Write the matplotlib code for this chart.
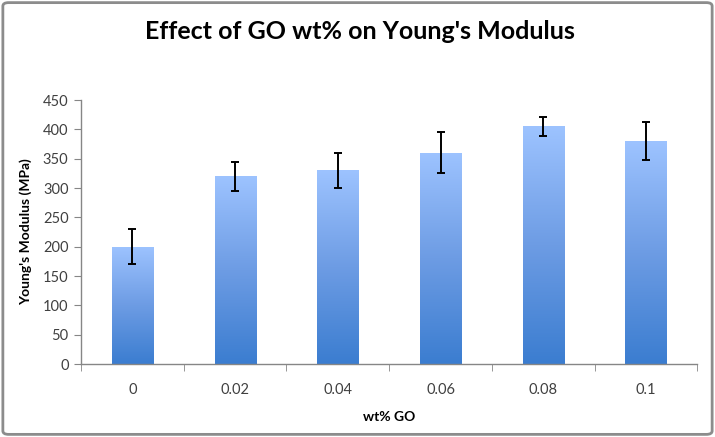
import numpy as np
import matplotlib
matplotlib.use("Agg")
from matplotlib import pyplot as plt
from matplotlib.patches import FancyBboxPatch
from matplotlib.colors import LinearSegmentedColormap

# values
wt_labels = ["0", "0.02", "0.04", "0.06", "0.08", "0.1"]
modulus = [200, 320, 330, 360, 405, 380]
errors = [30, 25, 30, 35, 16, 32]

plt.rcParams["font.family"] = ["Lato", "DejaVu Sans"]

fig = plt.figure(figsize=(7.15, 4.37), dpi=100)
ax = fig.add_axes([0.1133, 0.167, 0.862, 0.604])

x = np.arange(len(modulus))
bars = ax.bar(x, modulus, width=0.4, color="none", edgecolor="none", zorder=2)

# vertical gradient fill per bar, light on top, darker at the bottom
cmap = LinearSegmentedColormap.from_list("excel_blue", ["#3b7dd0", "#6d9ce4", "#9dc3ff"])
grad = np.linspace(0, 1, 256).reshape(-1, 1)
for b in bars:
    x0 = b.get_x()
    w, h = b.get_width(), b.get_height()
    im = ax.imshow(grad, extent=(x0, x0 + w, 0, h), origin="lower", cmap=cmap,
                   aspect="auto", zorder=2)
    im.set_clip_path(b)

ax.errorbar(x, modulus, yerr=errors, fmt="none", ecolor="black", elinewidth=1.4,
            capsize=3, capthick=1.4, zorder=3)

ax.set_xlim(-0.5, len(modulus) - 0.5)
ax.set_ylim(0, 450)
ax.set_yticks(np.arange(0, 451, 50))
ax.set_xticks(x)
ax.set_xticklabels(wt_labels)
ax.set_xticks(np.arange(-0.5, len(modulus), 1), minor=True)
ax.tick_params(axis="x", which="major", length=0, pad=14, labelsize=10.5, labelcolor="#404040")
ax.tick_params(axis="x", which="minor", length=5, color="#868686", direction="out")
ax.tick_params(axis="y", length=5, color="#868686", labelsize=10.5, labelcolor="#404040", pad=4)

for s in ["top", "right"]:
    ax.spines[s].set_visible(False)
for s in ["left", "bottom"]:
    ax.spines[s].set_color("#868686")
    ax.spines[s].set_linewidth(1.0)

ax.set_xlabel("wt% GO", fontsize=10, fontweight="bold", labelpad=10)
ax.set_ylabel("Young's Modulus (MPa)", fontsize=10, fontweight="bold", labelpad=8)
fig.text(0.503, 0.927, "Effect of GO wt% on Young's Modulus", ha="center", va="center",
         fontsize=18, fontweight="bold")

# chart frame
frame = FancyBboxPatch((0.004, 0.006), 0.992, 0.988, boxstyle="round,pad=0,rounding_size=0.008",
                       transform=fig.transFigure, facecolor="none", edgecolor="#8c8c8c",
                       linewidth=2)
fig.patches.append(frame)

fig.savefig("out.png", dpi=100)
